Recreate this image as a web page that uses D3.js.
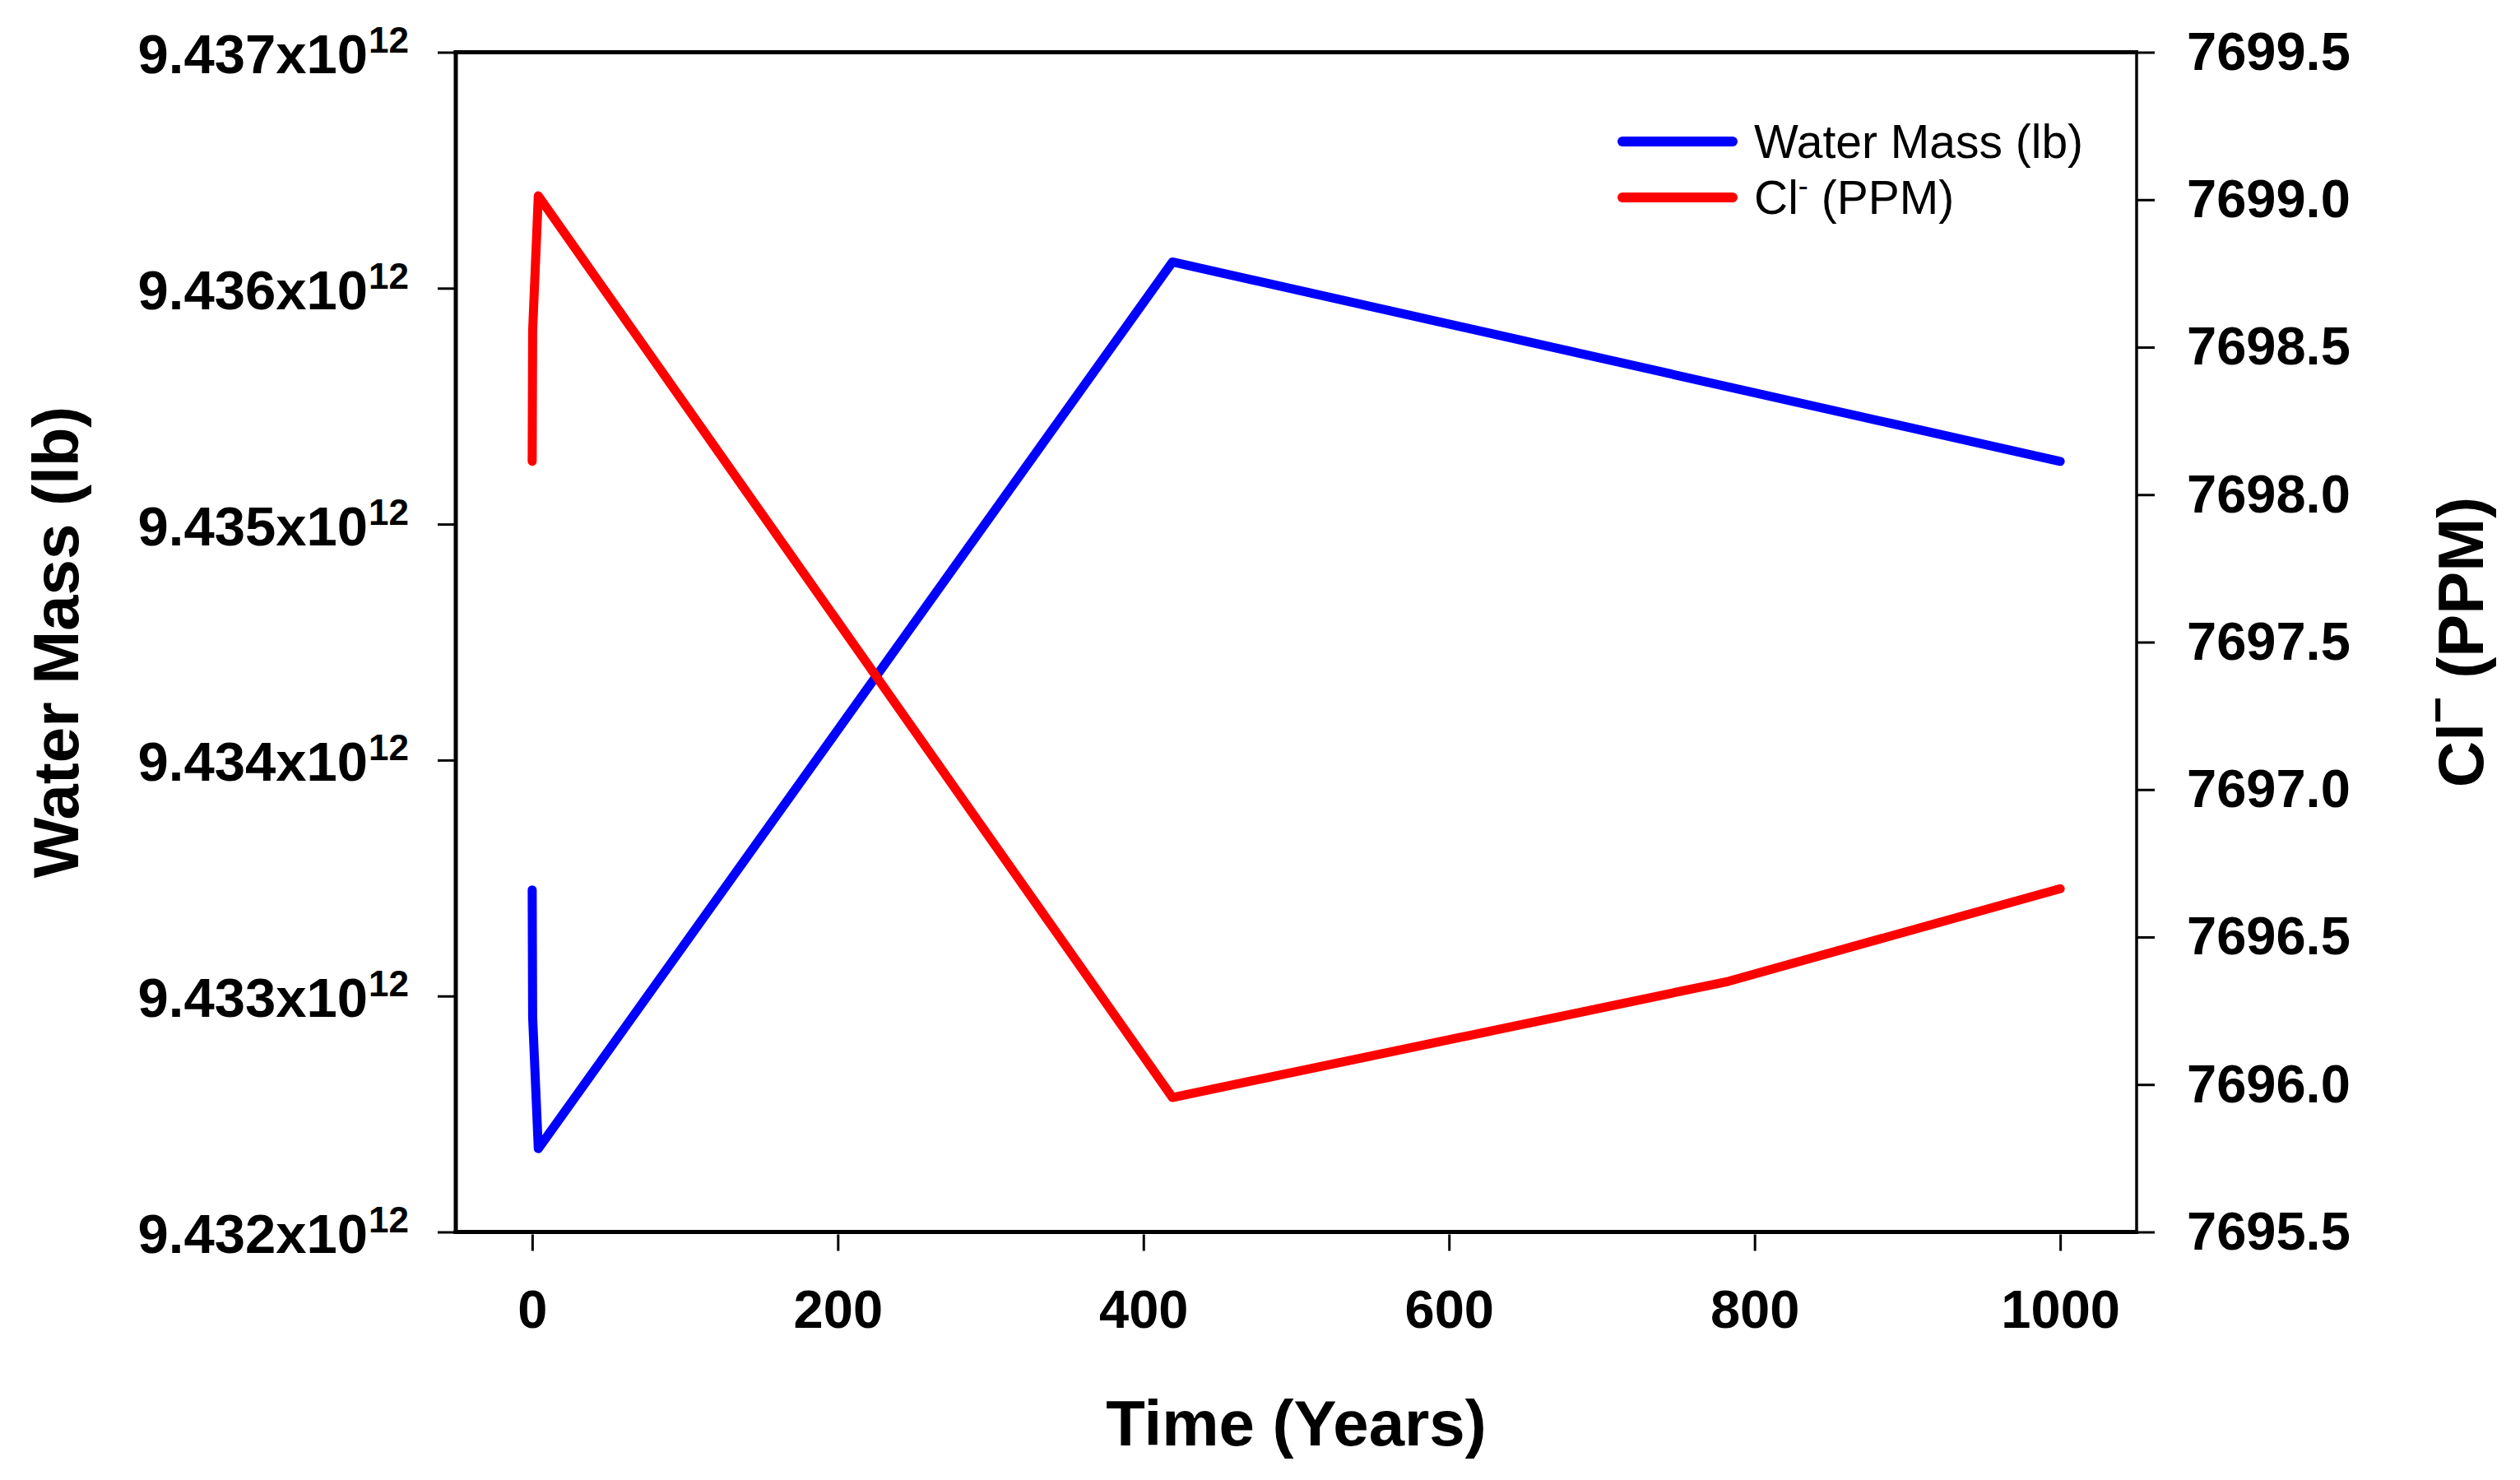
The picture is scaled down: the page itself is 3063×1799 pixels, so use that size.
<!DOCTYPE html>
<html>
<head>
<meta charset="utf-8">
<script src="https://cdn.jsdelivr.net/npm/d3@7"></script>
<style>
  html, body { margin: 0; padding: 0; background: #fff; }
  svg { display: block; }
</style>
</head>
<body>
<svg id="chart" width="3063" height="1799"></svg>
<script>
// ---- data ----
const massTime   = [0, 0.3, 4, 419, 648, 1000];
const massValues = [9.43345e12, 9.43291e12, 9.432353e12, 9.436111e12, 9.435778e12, 9.435266e12];

const clTime   = [0, 0.3, 4, 419, 783, 1000];
const clValues = [7698.113, 7698.556, 7699.013, 7695.956, 7696.35, 7696.664];

const xTicks      = [0, 200, 400, 600, 800, 1000];
const leftTicks   = [9.432e12, 9.433e12, 9.434e12, 9.435e12, 9.436e12, 9.437e12];
const leftLabels  = ["9.432", "9.433", "9.434", "9.435", "9.436", "9.437"];
const rightTicks  = [7695.5, 7696.0, 7696.5, 7697.0, 7697.5, 7698.0, 7698.5, 7699.0, 7699.5];

const seriesNames = ["Water Mass (lb)", "Cl"];
const xTitle = "Time (Years)";
const yLeftTitle = "Water Mass (lb)";

// ---- layout ----
const L = 554, R = 2597, T = 63.5, B = 1497.5;
const FONT = "'Liberation Sans', Arial, Helvetica, sans-serif";

const svg = d3.select("#chart");

const x  = d3.scaleLinear().domain([-50, 1050]).range([L, R]);
const yL = d3.scaleLinear().domain([9.432e12, 9.437e12]).range([B, T]);
const yR = d3.scaleLinear().domain([7695.5, 7699.5]).range([B, T]);

// ---- left axis ----
const gL = svg.append("g").attr("transform", `translate(${L},0)`)
  .call(d3.axisLeft(yL).tickValues(leftTicks).tickSize(22).tickFormat(""));
gL.select(".domain").remove();
gL.selectAll(".tick line").attr("stroke", "#000").attr("stroke-width", 3);
gL.selectAll(".tick").each(function(d, i) {
  const t = d3.select(this).append("text")
    .attr("x", -57).attr("y", 25).attr("dy", 0)
    .attr("text-anchor", "end")
    .attr("fill", "#000")
    .style("font-family", FONT).style("font-weight", "bold");
  t.append("tspan").style("font-size", "67px").text(leftLabels[i] + "x10");
  t.append("tspan").style("font-size", "44px").attr("dx", 1).attr("dy", -25).text("12");
});

// ---- right axis ----
const gR = svg.append("g").attr("transform", `translate(${R},0)`)
  .call(d3.axisRight(yR).tickValues(rightTicks).tickSize(22).tickPadding(39)
        .tickFormat(d3.format(".1f")));
gR.select(".domain").remove();
gR.selectAll(".tick line").attr("stroke", "#000").attr("stroke-width", 3);
gR.selectAll(".tick text")
  .attr("fill", "#000")
  .style("font-family", FONT).style("font-weight", "bold").style("font-size", "65px");

// ---- bottom axis (offset below the frame) ----
const gB = svg.append("g").attr("transform", `translate(0,${B + 3})`)
  .call(d3.axisBottom(x).tickValues(xTicks).tickSize(20).tickPadding(47)
        .tickFormat(d3.format("d")));
gB.select(".domain").remove();
gB.selectAll(".tick line").attr("stroke", "#000").attr("stroke-width", 3);
gB.selectAll(".tick text")
  .attr("fill", "#000")
  .style("font-family", FONT).style("font-weight", "bold").style("font-size", "65px");

// ---- frame ----
const frame = svg.append("g").attr("stroke", "#000").attr("fill", "none");
frame.append("line").attr("x1", L).attr("x2", L).attr("y1", T - 2.5).attr("y2", B + 2.5).attr("stroke-width", 5);
frame.append("line").attr("x1", L - 2.5).attr("x2", R + 2).attr("y1", B).attr("y2", B).attr("stroke-width", 5);
frame.append("line").attr("x1", L - 2.5).attr("x2", R + 2).attr("y1", T).attr("y2", T).attr("stroke-width", 5);
frame.append("line").attr("x1", R).attr("x2", R).attr("y1", T).attr("y2", B).attr("stroke-width", 3.5);

// ---- lines ----
const massData = massTime.map((t, i) => [t, massValues[i]]);
const clData   = clTime.map((t, i) => [t, clValues[i]]);

svg.append("path")
  .datum(massData)
  .attr("fill", "none").attr("stroke", "#0000ff").attr("stroke-width", 11)
  .attr("stroke-linecap", "round").attr("stroke-linejoin", "round")
  .attr("d", d3.line().x(d => x(d[0])).y(d => yL(d[1])));

svg.append("path")
  .datum(clData)
  .attr("fill", "none").attr("stroke", "#ff0000").attr("stroke-width", 11)
  .attr("stroke-linecap", "round").attr("stroke-linejoin", "round")
  .attr("d", d3.line().x(d => x(d[0])).y(d => yR(d[1])));

// ---- legend ----
const legend = svg.append("g").attr("transform", "translate(1972,172)");
const legendColors = ["#0000ff", "#ff0000"];
seriesNames.forEach((name, i) => {
  const g = legend.append("g").attr("transform", `translate(0,${i * 68})`);
  g.append("line").attr("x1", 0).attr("x2", 134).attr("y1", 0).attr("y2", 0)
    .attr("stroke", legendColors[i]).attr("stroke-width", 12).attr("stroke-linecap", "round");
  const t = g.append("text").attr("x", 160).attr("y", 20)
    .attr("fill", "#000").style("font-family", FONT).style("font-size", "57px");
  if (i === 0) {
    t.text(name);
  } else {
    t.append("tspan").text(name);
    t.append("tspan").style("font-size", "36px").attr("dy", -22).text("-");
    t.append("tspan").attr("dy", 22).text(" (PPM)");
  }
});

// ---- axis titles ----
svg.append("text")
  .attr("x", (L + R) / 2).attr("y", 1757)
  .attr("text-anchor", "middle").attr("fill", "#000")
  .style("font-family", FONT).style("font-weight", "bold").style("font-size", "78px")
  .text(xTitle);

svg.append("text")
  .attr("transform", `translate(95,${(T + B) / 2}) rotate(-90)`)
  .attr("text-anchor", "middle").attr("fill", "#000")
  .style("font-family", FONT).style("font-weight", "bold").style("font-size", "78px")
  .text(yLeftTitle);

const rt = svg.append("text")
  .attr("transform", `translate(3018,${(T + B) / 2}) rotate(-90)`)
  .attr("text-anchor", "middle").attr("fill", "#000")
  .style("font-family", FONT).style("font-weight", "bold").style("font-size", "78px");
rt.append("tspan").text("Cl");
rt.append("tspan").style("font-size", "56px").attr("dy", -36).text("−");
rt.append("tspan").attr("dy", 36).text(" (PPM)");
</script>
</body>
</html>
